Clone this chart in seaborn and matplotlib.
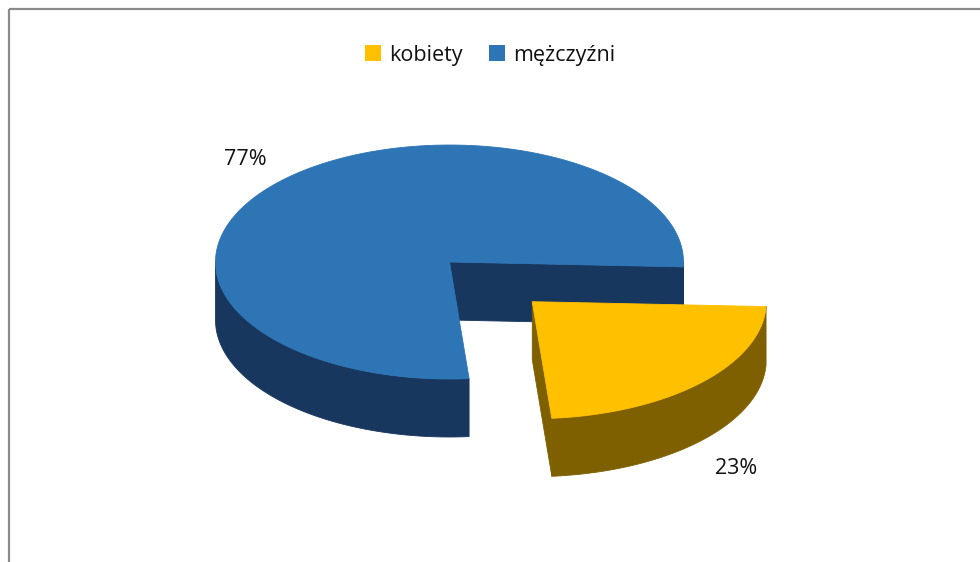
import numpy as np
import matplotlib
matplotlib.use('Agg')
import matplotlib.pyplot as plt
import seaborn as sns
from matplotlib.patches import Polygon, Rectangle

labels = ['kobiety', 'mężczyźni']
shares = [23, 77]
explode = [0.49, 0.0]
top_colors = sns.color_palette(['#FFC000', '#2E75B6'])
side_colors = sns.color_palette(['#7F6000', '#17375E'])

sns.set_theme(style='white')
plt.rcParams['font.family'] = ['Open Sans', 'DejaVu Sans']

# pie geometry in pixel units
cx, cy, a, b, depth = 449.5, 262.0, 234.0, 117.0, 58.0
first_angle = np.deg2rad(-2.4)


def pt(t, c, dz=0.0, r=1.0):
    return (c[0] + r * a * np.cos(t), c[1] - r * b * np.sin(t) + dz)


def arc(t1, t2, c, dz=0.0, n=120):
    ts = np.linspace(t1, t2, n)
    return [pt(t, c, dz) for t in ts]


fig = plt.figure(figsize=(9.8, 5.62), dpi=100)
ax = fig.add_axes([0, 0, 1, 1])
ax.set_xlim(0, 980)
ax.set_ylim(562, 0)
ax.axis('off')

# slices go clockwise from 3 o'clock
slices = []
ang = first_angle
total = sum(shares)
for i, v in enumerate(shares):
    e = ang
    s = ang - 2 * np.pi * v / total
    mid = (s + e) / 2
    c = (cx + explode[i] * a * np.cos(mid), cy - explode[i] * b * np.sin(mid))
    slices.append((i, s, e, mid, c))
    ang = s

# back slices first
for i, s, e, mid, c in sorted(slices, key=lambda z: z[4][1]):
    kw = dict(lw=0.6, joinstyle='round')
    # cut faces
    if np.cos(s) > 0:
        poly = [c, pt(s, c), pt(s, c, depth), (c[0], c[1] + depth)]
        ax.add_patch(Polygon(poly, closed=True, fc=side_colors[i], ec=side_colors[i], **kw))
    if np.cos(e) < 0:
        poly = [c, pt(e, c), pt(e, c, depth), (c[0], c[1] + depth)]
        ax.add_patch(Polygon(poly, closed=True, fc=side_colors[i], ec=side_colors[i], **kw))
    # outer rim, front half only
    for k in (-2, -1, 0, 1):
        lo = max(s, np.pi + 2 * np.pi * k)
        hi = min(e, 2 * np.pi + 2 * np.pi * k)
        if hi > lo:
            poly = arc(lo, hi, c) + arc(hi, lo, c, depth)
            ax.add_patch(Polygon(poly, closed=True, fc=side_colors[i], ec=side_colors[i], **kw))
    # top
    poly = [c] + arc(s, e, c)
    ax.add_patch(Polygon(poly, closed=True, fc=top_colors[i], ec=top_colors[i], **kw))
    # percent label
    lx = c[0] + 1.21 * a * np.cos(mid)
    ly = c[1] - 1.27 * b * np.sin(mid) + (depth + 6 if np.sin(mid) < 0 else 0)
    ax.text(lx, ly, f'{shares[i]}%', ha='center', va='center', fontsize=15.5, color='#111111')

handles = [Rectangle((0, 0), 1, 1, fc=top_colors[i], ec='none') for i in range(len(labels))]
ax.legend(handles, labels, loc='upper center', bbox_to_anchor=(0.5, 0.955), ncol=2,
          frameon=False, fontsize=15.5, handlelength=0.75, handleheight=0.75,
          handletextpad=0.4, columnspacing=1.2, labelcolor='#111111')

ax.add_patch(Rectangle((8.5, 8.5), 1100, 700, fill=False, ec='#8a8a8a', lw=1.6, clip_on=False))

fig.savefig('out.png', dpi=100)
